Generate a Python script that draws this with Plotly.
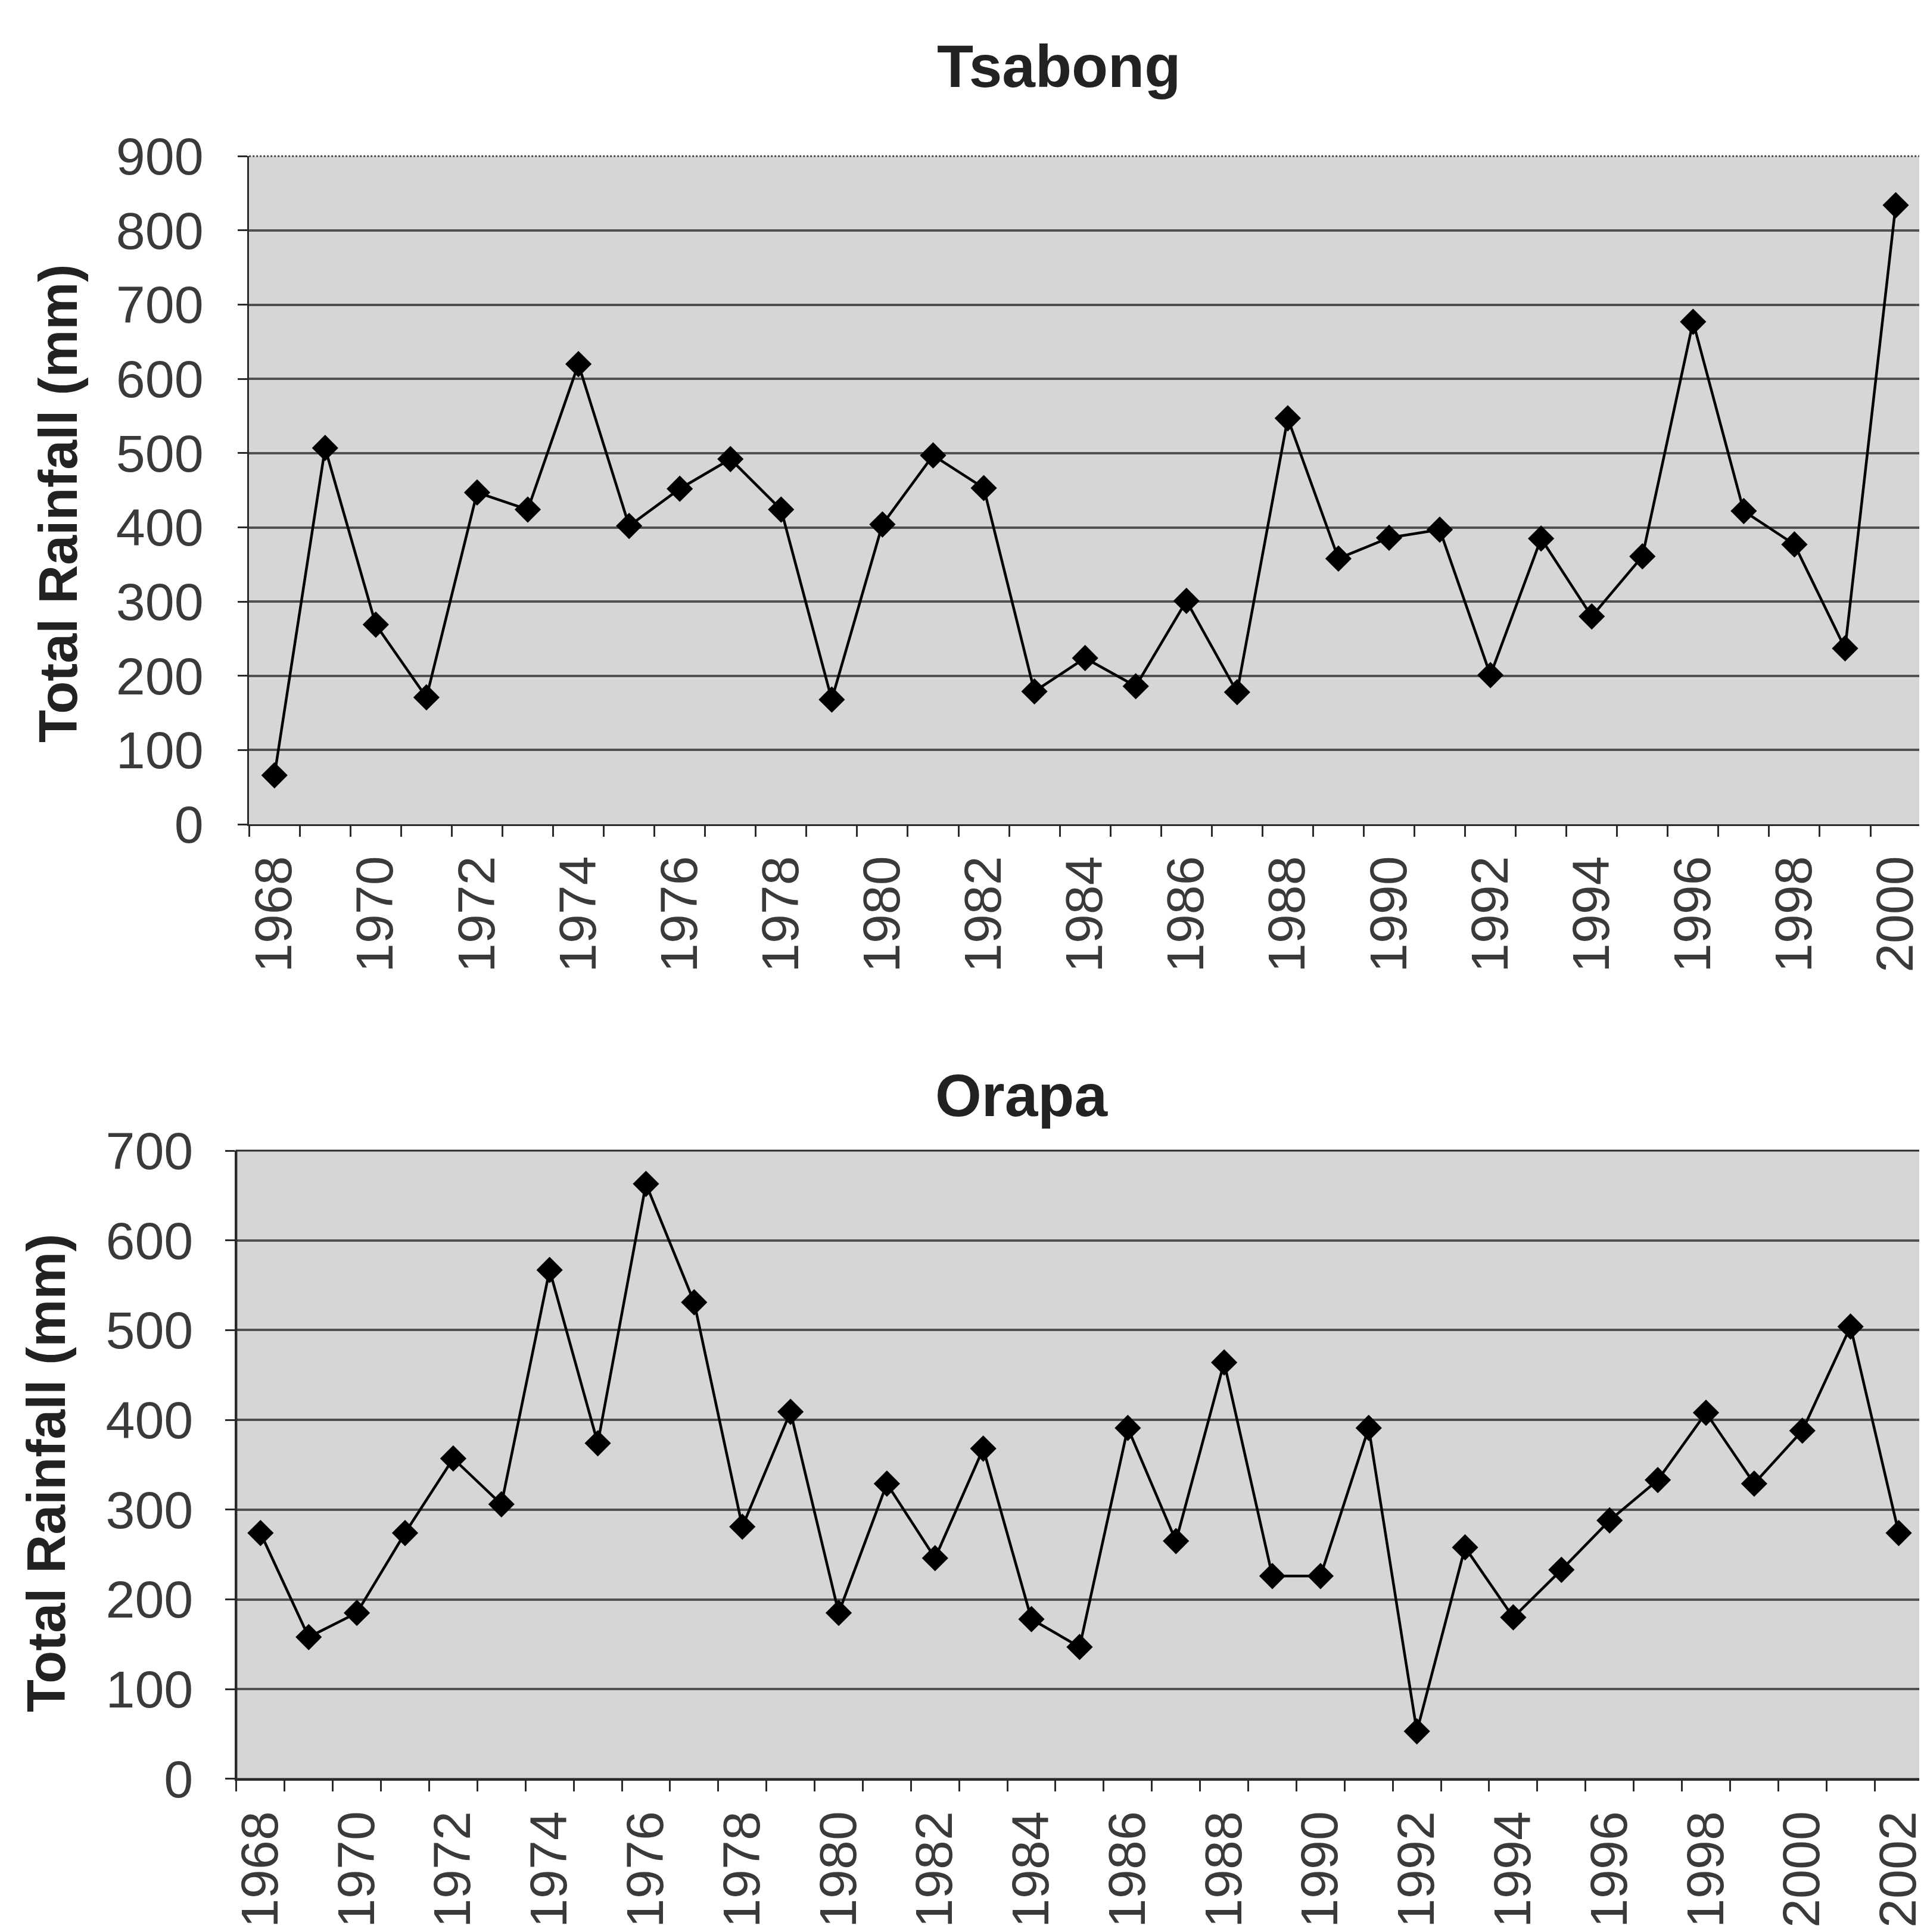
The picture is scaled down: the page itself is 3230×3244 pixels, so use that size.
import plotly.graph_objects as go

# ---- data ----
tsabong_years = list(range(1968, 2001))
tsabong_rain = [66, 507, 269, 171, 447, 424, 620, 402, 452, 492, 424, 168, 404, 497, 453,
                179, 224, 186, 301, 178, 547, 358, 386, 397, 201, 385, 280, 361, 677, 422,
                377, 237, 834]
tsabong_ticks = list(range(1968, 2001, 2))

orapa_years = list(range(1968, 2003))
orapa_rain = [274, 158, 185, 274, 357, 306, 567, 374, 663, 531, 281, 409, 185, 329, 246,
              368, 178, 147, 391, 265, 464, 226, 226, 391, 53, 258, 180, 233, 288, 333,
              408, 329, 388, 504, 274]
orapa_ticks = list(range(1968, 2003, 2))

FONT = "Liberation Sans"
DARK = "#2a2a2a"
TICKC = "#3a3a3a"
BG = "#d6d6d6"
GRID = "#505050"

fig = go.Figure()

fig.add_trace(go.Scatter(x=tsabong_years, y=tsabong_rain, mode="lines+markers",
                         line=dict(color="black", width=4.5),
                         marker=dict(symbol="diamond", size=34, color="black"),
                         xaxis="x", yaxis="y", showlegend=False))
fig.add_trace(go.Scatter(x=orapa_years, y=orapa_rain, mode="lines+markers",
                         line=dict(color="black", width=4.5),
                         marker=dict(symbol="diamond", size=34, color="black"),
                         xaxis="x2", yaxis="y2", showlegend=False))


def make_x(domain, anchor, years, ticks, standoff):
    lo, hi = years[0] - 0.5, years[-1] + 0.5
    bounds = [y - 0.5 for y in years] + [hi]
    return dict(domain=domain, anchor=anchor, range=[lo, hi], automargin=False,
                tickmode="array", tickvals=ticks, ticktext=[str(t) for t in ticks],
                tickangle=-90, ticks="", showgrid=False, zeroline=False,
                showline=True, linecolor=DARK, linewidth=3,
                tickfont=dict(family=FONT, size=88, color=TICKC),
                ticklabelstandoff=standoff, ticklabeloverflow="allow",
                minor=dict(tickmode="array", tickvals=bounds, ticks="outside",
                           ticklen=18, tickwidth=3, tickcolor=DARK, showgrid=False))


def make_y(domain, anchor, top, standoff, mirror):
    return dict(domain=domain, anchor=anchor, range=[0, top], automargin=False,
                tickmode="linear", tick0=0, dtick=100,
                ticks="outside", ticklen=16, tickwidth=3, tickcolor=DARK,
                showgrid=True, gridcolor=GRID, gridwidth=4,
                zeroline=False, showline=True, linecolor=DARK, linewidth=3,
                mirror=mirror,
                tickfont=dict(family=FONT, size=88, color=TICKC),
                ticklabelstandoff=standoff)


fig.update_layout(
    width=3230, height=3244, autosize=False,
    margin=dict(l=0, r=0, t=0, b=0, autoexpand=False),
    paper_bgcolor="white", plot_bgcolor=BG,
    xaxis=make_x([0.127, 0.996], "y", tsabong_years, tsabong_ticks, 15),
    yaxis=make_y([0.5758, 0.9216], "x", 900, 40, False),
    xaxis2=make_x([0.1204, 0.9969], "y2", orapa_years, orapa_ticks, 16),
    yaxis2=make_y([0.0817, 0.4069], "x2", 700, 36, True),
    shapes=[
        dict(type="rect", xref="x2 domain", yref="y2 domain", x0=0, x1=1, y0=0, y1=1,
             line=dict(color=DARK, width=3), fillcolor="rgba(0,0,0,0)"),
        dict(type="line", xref="x domain", yref="y domain", x0=0, x1=1, y0=1, y1=1,
             line=dict(color="#444444", width=3, dash="dot")),
    ],
    annotations=[
        dict(text="<b>Tsabong</b>", xref="paper", yref="paper", x=1769 / 3230, y=1 - 103 / 3244,
             xanchor="center", yanchor="middle", showarrow=False,
             font=dict(family=FONT, size=100, color="#222222")),
        dict(text="<b>Orapa</b>", xref="paper", yref="paper", x=1707 / 3230, y=1 - 1831 / 3244,
             xanchor="center", yanchor="middle", showarrow=False,
             font=dict(family=FONT, size=100, color="#222222")),
        dict(text="<b>Total Rainfall (mm)</b>", xref="paper", yref="paper", x=90 / 3230,
             y=1 - 838 / 3244, xanchor="center", yanchor="middle", textangle=-90,
             showarrow=False, font=dict(family=FONT, size=90, color="#222222")),
        dict(text="<b>Total Rainfall (mm)</b>", xref="paper", yref="paper", x=70 / 3230,
             y=1 - 2466 / 3244, xanchor="center", yanchor="middle", textangle=-90,
             showarrow=False, font=dict(family=FONT, size=90, color="#222222")),
    ],
)

fig.write_html("out.html")
